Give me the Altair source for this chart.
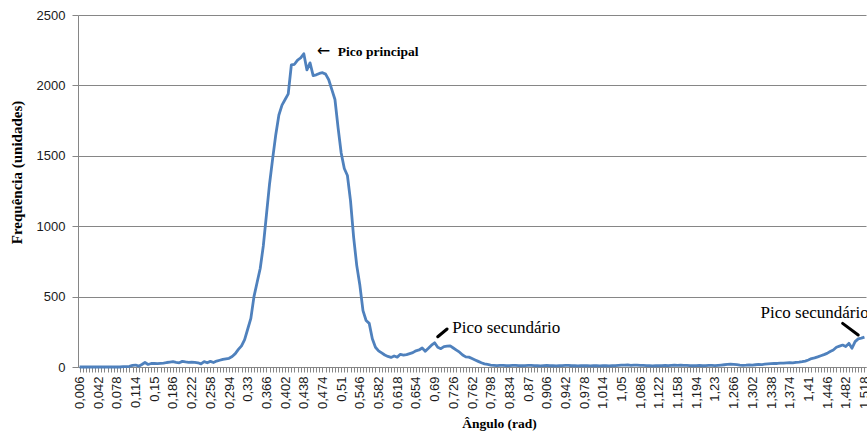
import altair as alt
import pandas as pd

# Angle classes (rad), one every 0.006 rad
n_classes = 253
angulos = [round(0.006 * (k + 1), 3) for k in range(n_classes)]
rotulos = [f"{a:g}".replace(".", ",") for a in angulos]

# Counts per angle class
frequencia = [
    0, 0, 0, 0, 0, 0, 0, 0, 0, 0,
    0, 0, 0, 0, 2, 3, 5, 12, 14, 6,
    18, 32, 18, 25, 26, 24, 26, 27, 32, 35,
    38, 33, 30, 40, 36, 33, 34, 33, 30, 22,
    38, 30, 40, 32, 42, 48, 54, 58, 62, 75,
    95, 125, 150, 195, 270, 345, 500, 600, 700, 860,
    1080, 1300, 1480, 1650, 1790, 1860, 1900, 1940, 2145, 2150,
    2180, 2195, 2225, 2110, 2160, 2070, 2075, 2085, 2090, 2080,
    2040, 1970, 1900, 1700, 1520, 1410, 1360, 1180, 920, 720,
    580, 400, 330, 310, 200, 140, 115, 100, 85, 75,
    68, 78, 70, 90, 85, 88, 95, 102, 115, 121,
    135, 112, 133, 155, 172, 140, 130, 145, 148, 150,
    135, 120, 105, 85, 72, 70, 60, 50, 40, 30,
    22, 18, 14, 12, 10, 11, 12, 9, 10, 11,
    12, 10, 9, 10, 11, 12, 10, 9, 8, 10,
    11, 9, 10, 8, 9, 10, 12, 11, 9, 10,
    8, 9, 10, 9, 8, 10, 9, 8, 9, 10,
    8, 9, 10, 12, 14, 13, 15, 12, 14, 13,
    11, 12, 10, 9, 8, 10, 9, 10, 11, 9,
    12, 14, 12, 13, 11, 12, 10, 9, 10, 11,
    9, 10, 12, 11, 10, 12, 14, 16, 18, 20,
    19, 17, 14, 12, 13, 15, 14, 16, 18, 17,
    20, 22, 24, 26, 25, 28, 27, 30, 31, 29,
    33, 35, 38, 42, 50, 60, 65, 72, 80, 88,
    97, 110, 121, 140, 148, 156, 145, 168, 133, 180,
    200, 205, 212,
]

# Only every sixth class gets a printed label
rotulos_eixo = rotulos[::6]
y_ticks = [0, 500, 1000, 1500, 2000, 2500]

# Annotations
seta = "\u2190"
nota_principal = "Pico principal"
pico_x = rotulos[72]
pico_y = 2225

notas_sec = ["Pico secund\u00e1rio", "Pico secund\u00e1rio"]
notas_sec_x = [rotulos[119], rotulos[218]]
notas_sec_y = [241, 346]

guia_x = [rotulos[115], rotulos[245]]
guia_x2 = [rotulos[118], rotulos[250]]
guia_y = [215, 310]
guia_y2 = [270, 227]

df = pd.DataFrame({"angulo": rotulos, "freq": frequencia})
df_sec = pd.DataFrame({"angulo": notas_sec_x, "freq": notas_sec_y, "txt": notas_sec})
df_pico = pd.DataFrame({"angulo": [pico_x], "freq": [pico_y], "txt": [nota_principal], "seta": [seta]})
df_guia = pd.DataFrame({"x": guia_x, "x2": guia_x2, "y": guia_y, "y2": guia_y2})

grey = "#868686"
lista = "[" + ",".join(f"'{r}'" for r in rotulos_eixo) + "]"

x_scale = alt.Scale(domain=rotulos, type="point", padding=0.5)
y_scale = alt.Scale(domain=[0, 2500], nice=False)

x_axis = alt.Axis(
    title="\u00c2ngulo (rad)",
    labelAngle=-90,
    labelExpr=f"indexof({lista}, datum.value) >= 0 ? datum.value : ''",
    labelOverlap=False,
    labelFont="Liberation Sans",
    labelFontSize=13,
    labelColor="#1a1a1a",
    labelPadding=4,
    tickColor=grey,
    tickSize=5,
    domainColor=grey,
    grid=False,
    titleFont="Liberation Serif",
    titleFontWeight="bold",
    titleFontSize=13.5,
    titleColor="black",
    titleX=421,
    titleY=60,
    titleAlign="center",
    titleBaseline="alphabetic",
)

y_axis = alt.Axis(
    title="Frequ\u00eancia (unidades)",
    values=y_ticks,
    format="d",
    grid=True,
    gridColor=grey,
    gridWidth=1,
    tickColor=grey,
    tickSize=6,
    domainColor=grey,
    labelFont="Liberation Sans",
    labelFontSize=13,
    labelColor="#1a1a1a",
    labelPadding=7,
    titleFont="Liberation Serif",
    titleFontWeight="bold",
    titleFontSize=15,
    titleColor="black",
    titleX=-57,
    titleY=157,
    titleAlign="center",
    titleBaseline="alphabetic",
)

linha = alt.Chart(df).mark_line(color="#4F81BD", strokeWidth=2.8, strokeJoin="round").encode(
    x=alt.X("angulo:O", scale=x_scale, axis=x_axis),
    y=alt.Y("freq:Q", scale=y_scale, axis=y_axis),
)

guias = alt.Chart(df_guia).mark_rule(color="black", strokeWidth=3, strokeCap="round").encode(
    x=alt.X("x:O", scale=x_scale),
    x2="x2",
    y=alt.Y("y:Q", scale=y_scale),
    y2="y2",
)

texto_sec = alt.Chart(df_sec).mark_text(
    align="left", baseline="alphabetic", dx=2, font="Liberation Serif", fontSize=17, color="black"
).encode(
    x=alt.X("angulo:O", scale=x_scale),
    y=alt.Y("freq:Q", scale=y_scale),
    text="txt:N",
)

seta_pico = alt.Chart(df_pico).mark_text(
    align="left", baseline="middle", dx=13, dy=-3, font="DejaVu Sans", fontSize=16, color="black"
).encode(
    x=alt.X("angulo:O", scale=x_scale),
    y=alt.Y("freq:Q", scale=y_scale),
    text="seta:N",
)

texto_pico = alt.Chart(df_pico).mark_text(
    align="left", baseline="middle", dx=34, dy=-2, font="Liberation Serif", fontSize=13.5,
    fontWeight="bold", color="black"
).encode(
    x=alt.X("angulo:O", scale=x_scale),
    y=alt.Y("freq:Q", scale=y_scale),
    text="txt:N",
)

chart = alt.layer(linha, guias, texto_sec, seta_pico, texto_pico).properties(
    width=788,
    height=352,
    autosize=alt.AutoSizeParams(type="none"),
    padding={"left": 78, "top": 15, "right": 1, "bottom": 69},
    background="white",
).configure_view(stroke=None)

chart.save("out.html", embed_options={"renderer": "svg", "actions": False})
